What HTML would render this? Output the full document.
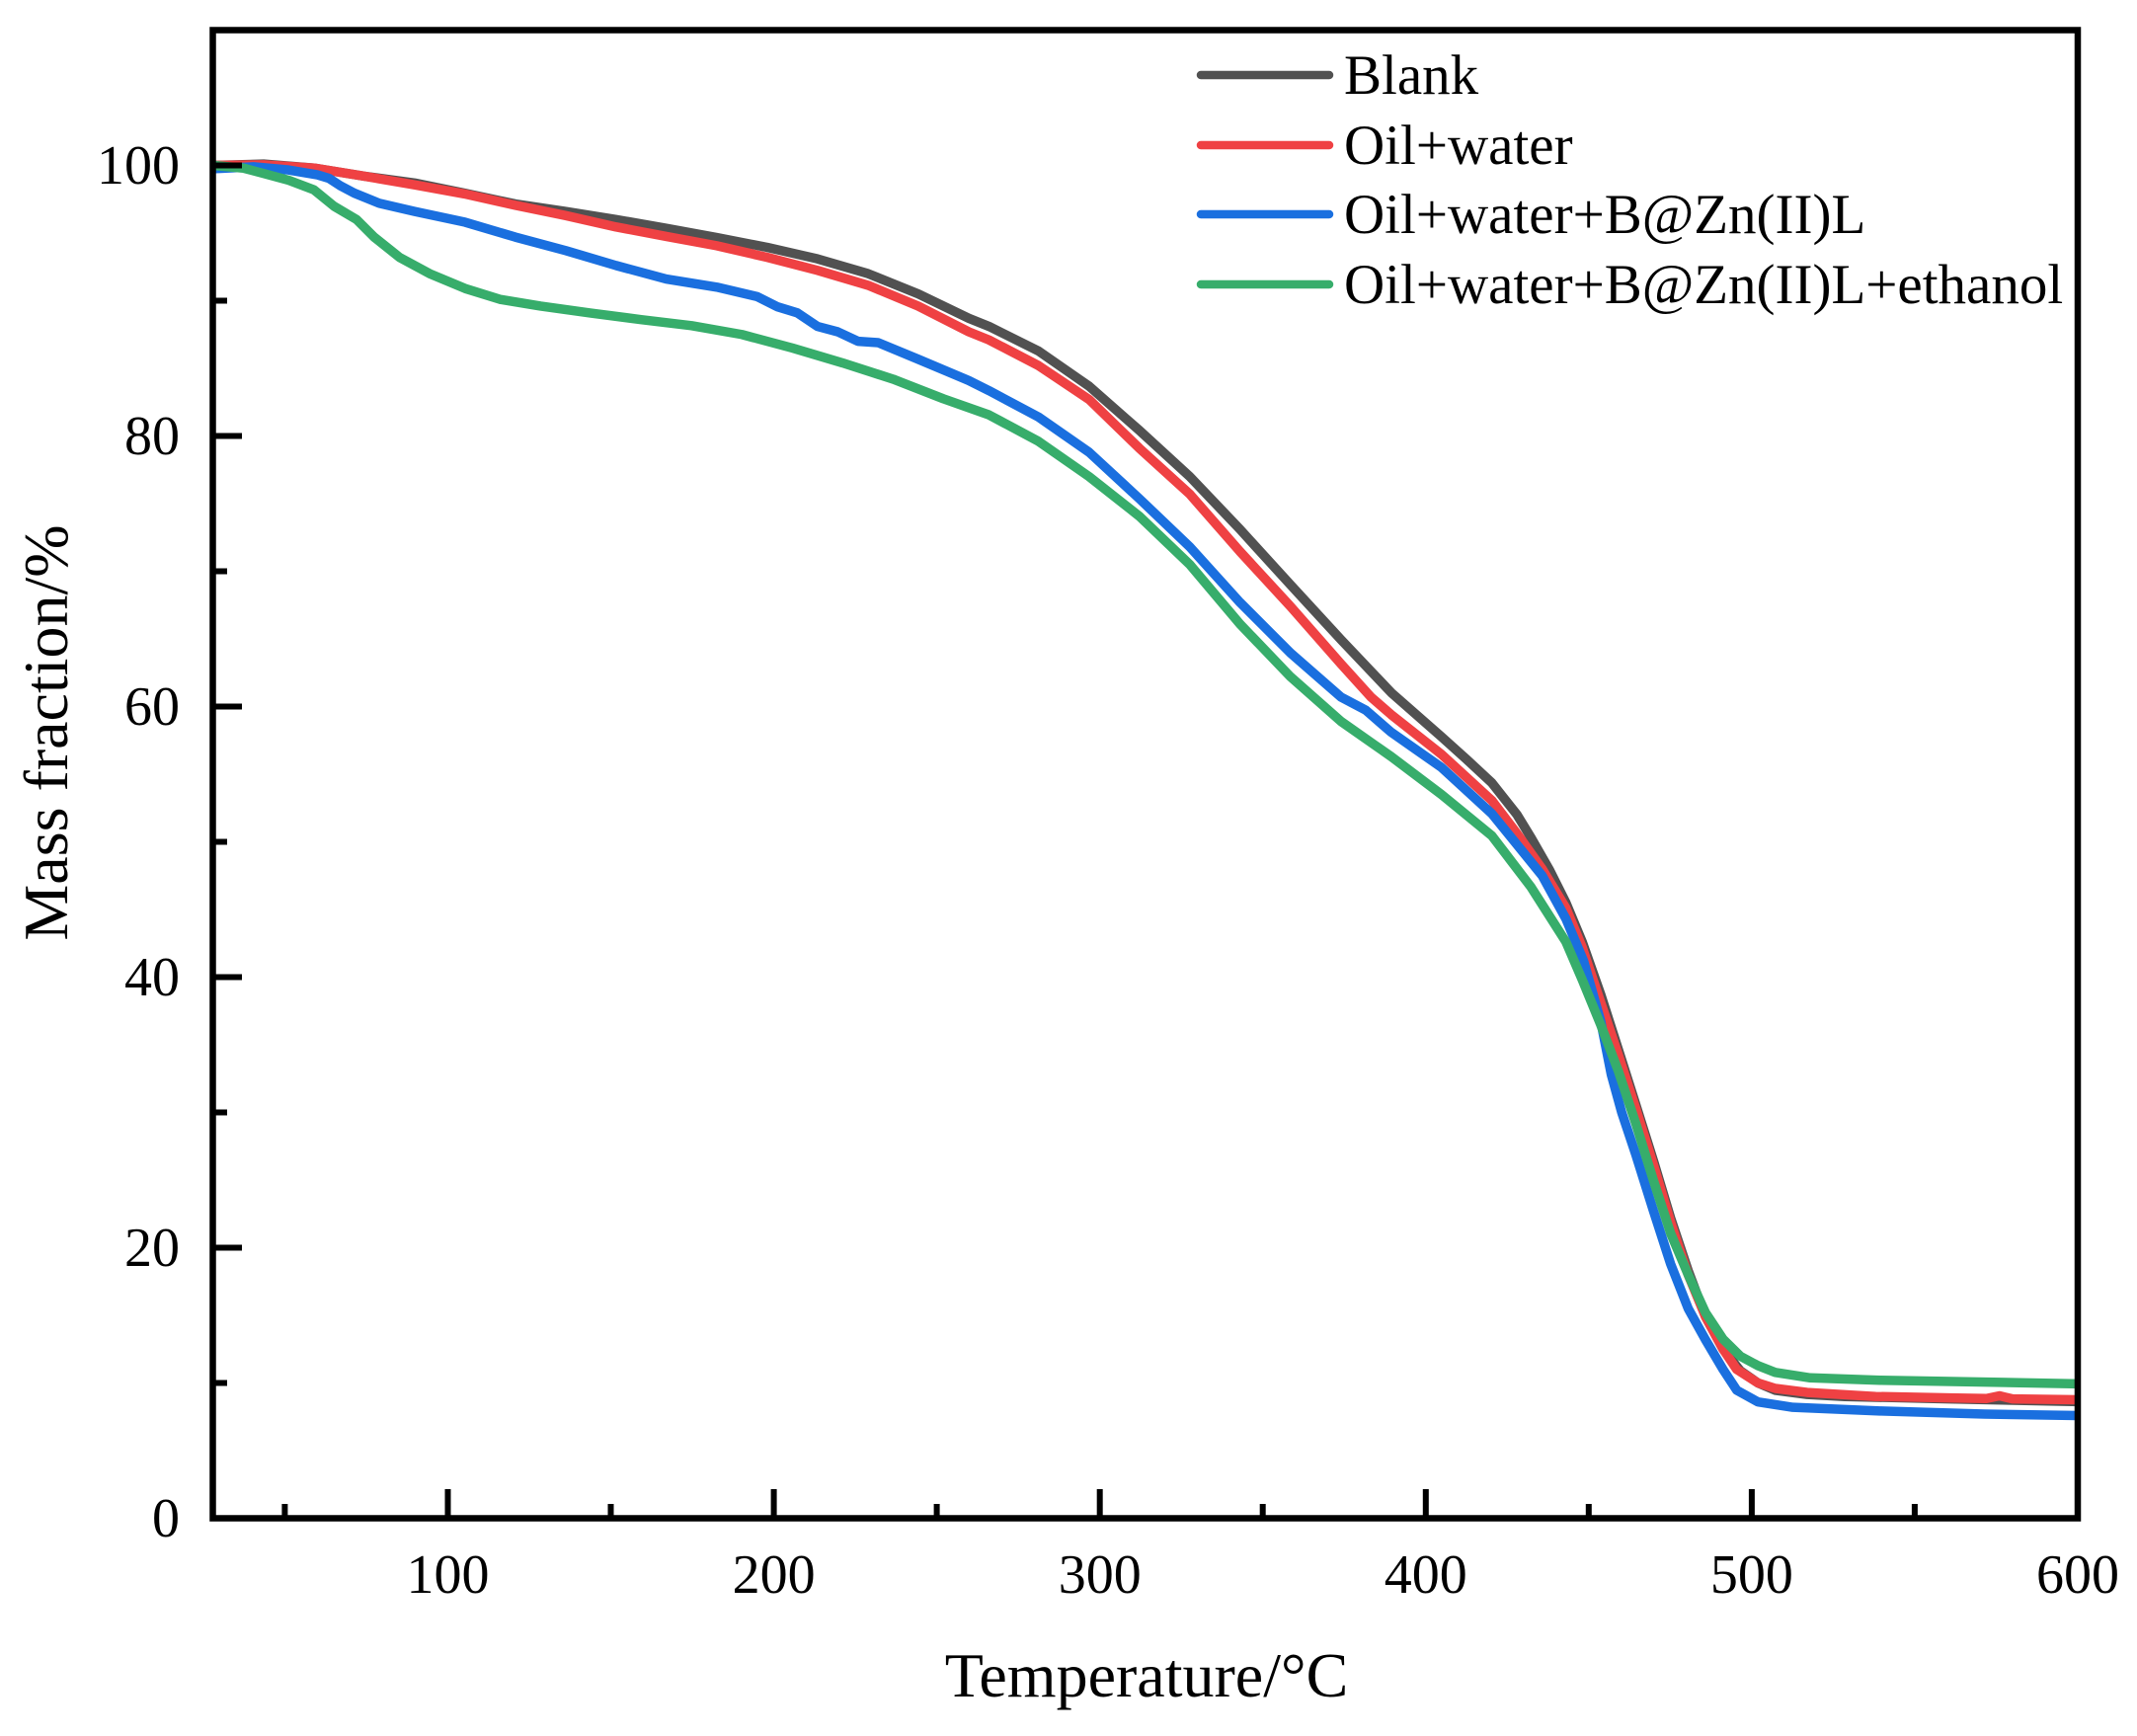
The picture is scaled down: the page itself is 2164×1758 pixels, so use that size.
<!DOCTYPE html>
<html><head><meta charset="utf-8"><style>
html,body{margin:0;padding:0;background:#fff;}
svg{display:block;}
text{font-family:"Liberation Serif","Times New Roman",serif;fill:#000;}
</style></head><body>
<svg width="2164" height="1758" viewBox="0 0 2164 1758" xmlns="http://www.w3.org/2000/svg">
<rect width="2164" height="1758" fill="#fff"/>
<g fill="none" stroke-width="9.5" stroke-linejoin="round" stroke-linecap="butt" transform="matrix(3.301 0 0 -13.7 123.4 1537.5)">
<polyline vector-effect="non-scaling-stroke" stroke="#515151" points="28,100 43.5,100.1 59,99.8 74.4,99.2 89.8,98.7 105,97.95 120.7,97.15 136,96.6 151.6,96 167,95.35 182.5,94.67 198,93.94 213.4,93.09 228.9,92 244.3,90.5 259.8,88.7 266,88.1 281.2,86.28 296.7,83.68 312.1,80.42 327.6,77 343,73.1 358.5,69 374,64.94 389.4,61.03 404.8,57.77 412.5,56.1 420.3,54.35 428,52 432.3,50.3 438,47.9 443,45.5 448,42.6 453.7,38.7 459,34.7 464.4,30.6 470,26.3 475.1,22.2 480.5,18.3 485.8,14.9 491.2,12.5 496.5,10.9 501.9,10 507.2,9.46 517,9.15 528.6,9.0 560.7,8.82 600,8.62"/>
<polyline vector-effect="non-scaling-stroke" stroke="#EF4143" points="28,100 43.5,100.05 59,99.8 74.4,99.2 89.8,98.56 105,97.9 120.7,97.05 136,96.3 151.6,95.45 167,94.75 182.5,94.06 198,93.2 213.4,92.24 228.9,91.14 244.3,89.6 259.8,87.7 266,87.1 281.2,85.2 296.7,82.7 312.1,79.1 327.6,75.7 343,71.46 358.5,67.4 374,63.15 383.2,60.7 389.4,59.4 404.8,56.47 420.3,53.05 428,50.6 435.7,48 443,45.1 448,42.2 453.7,38.1 459,34.3 464.4,30.3 470,26 475.1,21.9 480.5,18 485.8,14.9 491.2,12.5 495.4,11 501.9,10 507.2,9.6 517,9.3 538,9.0 560.7,8.9 572,8.85 576,9.05 580,8.82 600,8.76"/>
<polyline vector-effect="non-scaling-stroke" stroke="#1A6FDF" points="28,99.75 40.4,99.9 51.2,99.66 60,99.3 63.5,99.05 67,98.5 71.3,97.95 79,97.2 89.8,96.6 105.3,95.8 120.7,94.7 136.2,93.7 151.6,92.6 167,91.6 182.5,91 194.9,90.3 201,89.56 207.2,89.1 213.4,88.1 219.6,87.7 225.8,87 232,86.9 244.3,85.67 259.8,84.1 266,83.35 281.2,81.4 296.7,78.8 312.1,75.37 327.6,71.8 343,67.7 358.5,63.96 374,60.7 381.6,59.73 389.4,58.1 404.8,55.5 420.3,52.07 435.7,47.5 443,44.3 448.4,41.2 453.7,36.7 456.9,32.8 460.1,30 464.4,26.9 469.8,22.75 475.1,18.8 480.5,15.5 485.8,13.2 491.2,11 495.4,9.46 501.9,8.6 512.6,8.2 539.3,7.93 571.4,7.7 600,7.59"/>
<polyline vector-effect="non-scaling-stroke" stroke="#37AD6B" points="28,100 37.3,99.8 43.5,99.4 51.2,98.9 58.9,98.2 65.1,96.98 72,96 77.4,94.7 85.2,93.2 94.4,92 105.3,90.9 116,90.1 128.4,89.6 143.9,89.08 159.3,88.6 174.8,88.15 190.2,87.5 205.7,86.5 221.1,85.4 236.6,84.2 252,82.75 266,81.56 281.2,79.6 296.7,77 312.1,74.07 327.6,70.5 343,66.1 358.5,62.2 374,58.9 389.4,56.3 404.8,53.5 420.3,50.44 432.3,46.65 443,42.6 448,39.8 453.7,36.45 459,33.1 464.4,29.2 469.8,25 475.1,21.07 480.5,18 485.8,15.2 491.2,13.24 496.5,11.98 501.9,11.28 507.2,10.78 517.9,10.38 539.3,10.2 600,9.94"/>
</g>
<!-- axes frame -->
<rect x="215.5" y="30.5" width="1888.5" height="1507" fill="none" stroke="#000" stroke-width="6.5"/>
<!-- x ticks -->
<g stroke="#000" stroke-width="6">
<line x1="453.5" y1="1537" x2="453.5" y2="1508"/>
<line x1="783.6" y1="1537" x2="783.6" y2="1508"/>
<line x1="1113.7" y1="1537" x2="1113.7" y2="1508"/>
<line x1="1443.8" y1="1537" x2="1443.8" y2="1508"/>
<line x1="1773.9" y1="1537" x2="1773.9" y2="1508"/>
<line x1="288.4" y1="1537" x2="288.4" y2="1523"/>
<line x1="618.5" y1="1537" x2="618.5" y2="1523"/>
<line x1="948.6" y1="1537" x2="948.6" y2="1523"/>
<line x1="1278.7" y1="1537" x2="1278.7" y2="1523"/>
<line x1="1608.8" y1="1537" x2="1608.8" y2="1523"/>
<line x1="1938.9" y1="1537" x2="1938.9" y2="1523"/>
<!-- y ticks -->
<line x1="216" y1="1263.5" x2="245" y2="1263.5"/>
<line x1="216" y1="989.5" x2="245" y2="989.5"/>
<line x1="216" y1="715.5" x2="245" y2="715.5"/>
<line x1="216" y1="441.5" x2="245" y2="441.5"/>
<line x1="216" y1="167.5" x2="245" y2="167.5"/>
<line x1="216" y1="1400.5" x2="230" y2="1400.5"/>
<line x1="216" y1="1126.5" x2="230" y2="1126.5"/>
<line x1="216" y1="852.5" x2="230" y2="852.5"/>
<line x1="216" y1="578.5" x2="230" y2="578.5"/>
<line x1="216" y1="304.5" x2="230" y2="304.5"/>
</g>
<!-- x tick labels -->
<g font-size="56" text-anchor="middle">
<text x="453.5" y="1613">100</text>
<text x="783.6" y="1613">200</text>
<text x="1113.7" y="1613">300</text>
<text x="1443.8" y="1613">400</text>
<text x="1773.9" y="1613">500</text>
<text x="2104" y="1613">600</text>
</g>
<!-- y tick labels -->
<g font-size="56" text-anchor="end">
<text x="182" y="1556">0</text>
<text x="182" y="1282">20</text>
<text x="182" y="1008">40</text>
<text x="182" y="734">60</text>
<text x="182" y="460">80</text>
<text x="182" y="186">100</text>
</g>
<!-- axis titles -->
<text x="1161" y="1718" font-size="64" text-anchor="middle">Temperature/°C</text>
<text transform="translate(68,742) rotate(-90)" font-size="64" text-anchor="middle">Mass fraction/%</text>
<!-- legend -->
<g stroke-width="8.5" stroke-linecap="round">
<line x1="1216" y1="76" x2="1346" y2="76" stroke="#515151"/>
<line x1="1216" y1="147" x2="1346" y2="147" stroke="#EF4143"/>
<line x1="1216" y1="217" x2="1346" y2="217" stroke="#1A6FDF"/>
<line x1="1216" y1="288" x2="1346" y2="288" stroke="#37AD6B"/>
</g>
<g font-size="57">
<text x="1361" y="95">Blank</text>
<text x="1361" y="166">Oil+water</text>
<text x="1361" y="236">Oil+water+B@Zn(II)L</text>
<text x="1361" y="307">Oil+water+B@Zn(II)L+ethanol</text>
</g>
</svg>
</body></html>
